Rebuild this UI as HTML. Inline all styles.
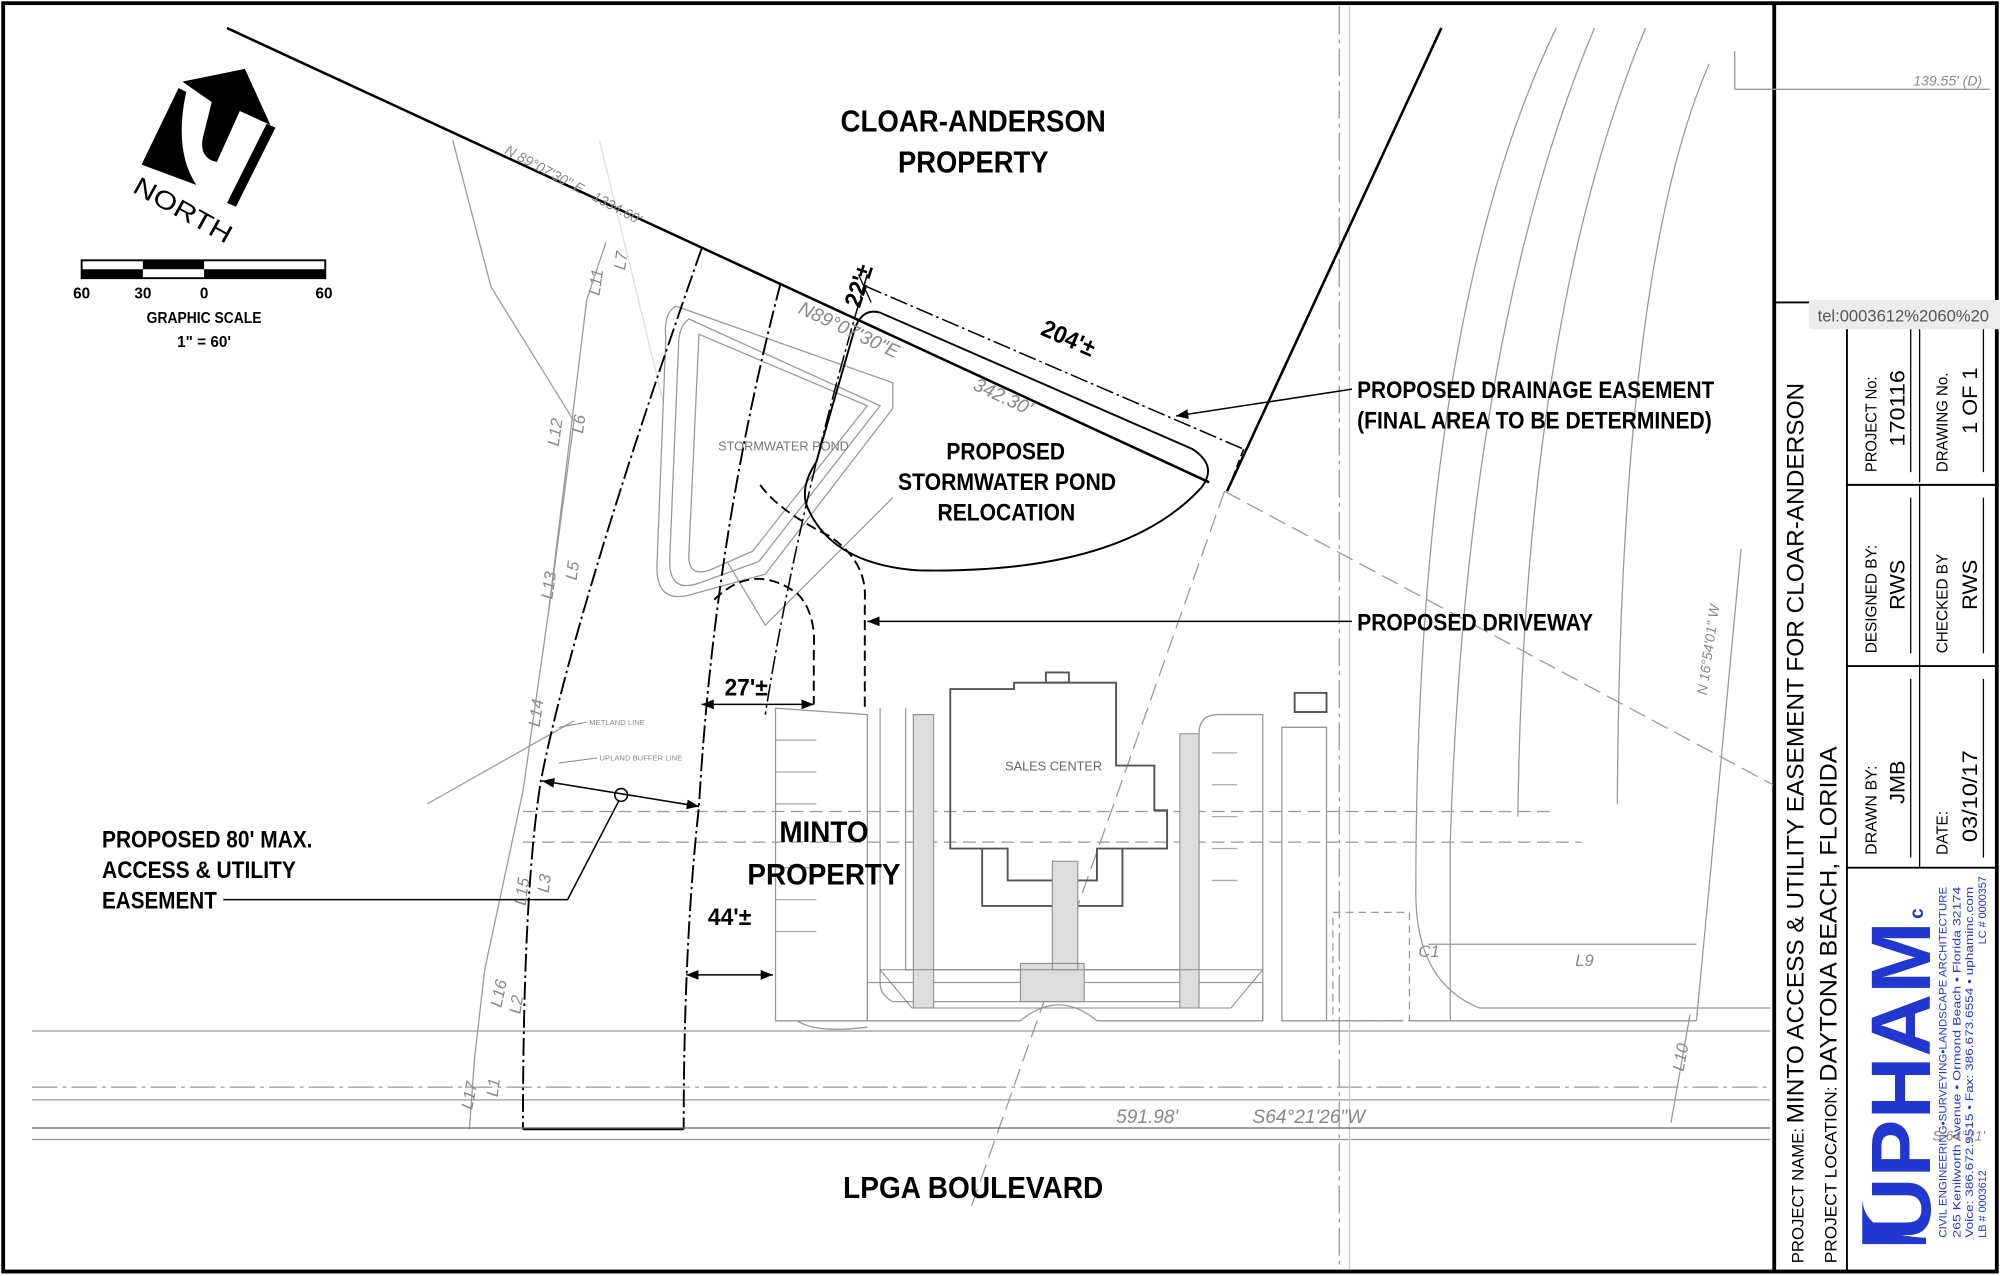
<!DOCTYPE html>
<html><head><meta charset="utf-8"><style>
html,body{margin:0;padding:0;background:#fff;}
svg{display:block;}
text{font-family:"Liberation Sans Narrow","Liberation Sans",sans-serif;}
.b{font-weight:bold;fill:#000;}
.g{fill:#888;font-style:italic;font-size:11px;}
</style></head><body>
<svg width="2000" height="1276" viewBox="0 0 1568 1000" preserveAspectRatio="none" xmlns="http://www.w3.org/2000/svg">
<defs><marker id="ar" viewBox="0 0 10 10" refX="10" refY="5" markerWidth="8" markerHeight="8" orient="auto-start-reverse"><path d="M0,1 L10,5 L0,9 Z" fill="#000"/></marker></defs>
<rect x="0" y="0" width="1568" height="1000" fill="#fff"/>
<!-- frame -->
<rect x="2.5" y="2.5" width="1563" height="994" fill="none" stroke="#000" stroke-width="3"/>
<line x1="1391" y1="2" x2="1391" y2="997" stroke="#000" stroke-width="3"/>
<line x1="1392" y1="237" x2="1566" y2="237" stroke="#000" stroke-width="1.5"/>
<line x1="1448" y1="237" x2="1448" y2="997" stroke="#000" stroke-width="1.5"/>
<line x1="1505" y1="380" x2="1505" y2="680" stroke="#000" stroke-width="1"/>
<line x1="1448" y1="380" x2="1566" y2="380" stroke="#000" stroke-width="1.5"/>
<line x1="1448" y1="522" x2="1566" y2="522" stroke="#000" stroke-width="1.5"/>
<line x1="1448" y1="680" x2="1566" y2="680" stroke="#000" stroke-width="1.5"/>
<line x1="1505" y1="250" x2="1505" y2="378" stroke="#000" stroke-width="1"/>
<g stroke="#000" stroke-width="1">
<line x1="1498" y1="255" x2="1498" y2="370"/><line x1="1555" y1="255" x2="1555" y2="370"/>
<line x1="1498" y1="390" x2="1498" y2="512"/><line x1="1555" y1="390" x2="1555" y2="512"/>
<line x1="1498" y1="532" x2="1498" y2="672"/><line x1="1555" y1="532" x2="1555" y2="672"/>
</g>
<!-- title block text -->
<g font-size="14" fill="#000">
<text transform="translate(1414,990) rotate(-90)" font-size="13" textLength="690" lengthAdjust="spacingAndGlyphs">PROJECT NAME: <tspan font-size="19">MINTO ACCESS &amp; UTILITY EASEMENT FOR CLOAR-ANDERSON</tspan></text>
<text transform="translate(1440,990) rotate(-90)" font-size="13" textLength="405" lengthAdjust="spacingAndGlyphs">PROJECT LOCATION: <tspan font-size="19">DAYTONA BEACH, FLORIDA</tspan></text>
<text transform="translate(1471,370) rotate(-90)" font-size="12" textLength="75" lengthAdjust="spacingAndGlyphs">PROJECT No:</text>
<text transform="translate(1493,350) rotate(-90)" font-size="17" textLength="60" lengthAdjust="spacingAndGlyphs">170116</text>
<text transform="translate(1527,370) rotate(-90)" font-size="12" textLength="78" lengthAdjust="spacingAndGlyphs">DRAWING No.</text>
<text transform="translate(1550,340) rotate(-90)" font-size="17" textLength="52" lengthAdjust="spacingAndGlyphs">1 OF 1</text>
<text transform="translate(1471,512) rotate(-90)" font-size="12" textLength="85" lengthAdjust="spacingAndGlyphs">DESIGNED BY:</text>
<text transform="translate(1493,478) rotate(-90)" font-size="17">RWS</text>
<text transform="translate(1527,512) rotate(-90)" font-size="12" textLength="78" lengthAdjust="spacingAndGlyphs">CHECKED BY</text>
<text transform="translate(1550,478) rotate(-90)" font-size="17">RWS</text>
<text transform="translate(1471,670) rotate(-90)" font-size="12" textLength="70" lengthAdjust="spacingAndGlyphs">DRAWN BY:</text>
<text transform="translate(1493,630) rotate(-90)" font-size="17">JMB</text>
<text transform="translate(1527,670) rotate(-90)" font-size="12">DATE:</text>
<text transform="translate(1550,660) rotate(-90)" font-size="17" textLength="72" lengthAdjust="spacingAndGlyphs">03/10/17</text>
</g>
<text transform="translate(1513,972) rotate(-90)" font-size="66" font-weight="bold" fill="#2236d0" textLength="250" lengthAdjust="spacingAndGlyphs" font-family="Liberation Sans,sans-serif">UPHAM</text>
<text transform="translate(1513,720) rotate(-90)" font-size="22" font-weight="bold" fill="#2236d0" font-family="Liberation Sans,sans-serif">ᶜ</text>
<path d="M1460,975 L1460,940 Q1462,968 1510,970 L1510,975 Z" fill="#2236d0"/>
<g fill="#2236d0" font-size="8.5">
<text transform="translate(1526,970) rotate(-90)" textLength="275" lengthAdjust="spacingAndGlyphs">CIVIL ENGINEERING•SURVEYING•LANDSCAPE ARCHITECTURE</text>
<text transform="translate(1537,970) rotate(-90)" textLength="275" lengthAdjust="spacingAndGlyphs">265 Kenilworth Avenue • Ormond Beach • Florida 32174</text>
<text transform="translate(1547,970) rotate(-90)" textLength="275" lengthAdjust="spacingAndGlyphs">Voice: 386.672.9515 • Fax: 386.673.6554 • uphaminc.com</text>
<text transform="translate(1557,970) rotate(-90)">LB # 0003612</text>
<text transform="translate(1557,740) rotate(-90)">LC # 0000357</text>
</g>
<rect x="1418" y="235" width="152" height="23" fill="#ececec" rx="3"/>
<text x="1425" y="252" font-size="13" fill="#555" font-family="Liberation Sans,sans-serif">tel:0003612%2060%20</text>

<!-- grey background linework -->
<g fill="none" stroke="#999" stroke-width="1">
<line x1="25" y1="808" x2="1388" y2="808"/>
<line x1="25" y1="862" x2="1388" y2="862"/>
<line x1="25" y1="893" x2="1388" y2="893"/>
<line x1="25" y1="852" x2="1388" y2="852" stroke-dasharray="20 4 3 4"/>
<line x1="1050" y1="5" x2="1050" y2="995" stroke-dasharray="22 4 3 4"/>
<line x1="1058" y1="5" x2="1058" y2="995" stroke="#ccc"/>
<path d="M1220,22 Q1110,250 1110,700 Q1110,770 1160,790 L1388,790"/>
<path d="M1250,22 Q1150,260 1137,660 L1137,800"/>
<path d="M1290,22 Q1195,250 1190,640"/>
<path d="M1340,50 Q1270,210 1268,630"/>
<path d="M1105,800 L1330,800"/>
<line x1="1120" y1="740" x2="1330" y2="740"/>
<line x1="1365" y1="430" x2="1330" y2="800"/>
<line x1="1325" y1="795" x2="1310" y2="880"/>
<line x1="1360" y1="70" x2="1360" y2="40"/><line x1="1360" y1="70" x2="1560" y2="70"/>
<line x1="410" y1="636" x2="1215" y2="636" stroke-dasharray="10 5"/>
<line x1="410" y1="660" x2="1240" y2="660" stroke-dasharray="10 5"/>
<line x1="960" y1="385" x2="1390" y2="615" stroke-dasharray="14 6"/>
<line x1="960" y1="385" x2="760" y2="950" stroke-dasharray="14 6"/>
<path d="M470,110 L520,315" stroke="#ddd"/>
<path d="M355,110 L385,225 L450,330 L430,480 L410,620 L380,760 L372,830 L368,885"/>
<path d="M475,190 L460,235 L430,480"/>
<path d="M335,630 L450,565"/>
<path d="M530,240 Q520,245 522,265 L515,445 Q515,475 545,465 L600,450 L700,320 L700,300 Z"/>
<path d="M540,250 Q532,256 532,270 L525,440 Q525,465 548,457 L595,440 L690,318 Z"/>
<path d="M548,262 L540,436 Q540,452 556,447 L590,432 L680,318 Z"/>
<path d="M570,440 L600,490 L700,390"/>
<path d="M608,555 L608,800 L680,800 L680,560 Z"/>
<g stroke="#aaa">
<line x1="608" y1="580" x2="640" y2="580"/><line x1="608" y1="605" x2="640" y2="605"/><line x1="608" y1="630" x2="640" y2="630"/>
<line x1="608" y1="680" x2="640" y2="680"/><line x1="608" y1="705" x2="640" y2="705"/><line x1="608" y1="730" x2="640" y2="730"/>
<line x1="950" y1="590" x2="970" y2="590"/><line x1="950" y1="615" x2="970" y2="615"/><line x1="950" y1="640" x2="970" y2="640"/>
<line x1="950" y1="665" x2="970" y2="665"/><line x1="950" y1="690" x2="970" y2="690"/>
</g>
<path d="M710,555 L710,760 L930,760 L930,575"/>
<path d="M690,555 L690,770 Q690,780 700,785 L940,785 L940,575 Q940,560 955,560 L990,560 L990,800"/>
<path d="M1005,570 L1040,570 L1040,800 L1005,800 Z"/>
<path d="M680,770 L680,800 Q700,800 800,800 Q830,775 860,800 L990,800 L990,770 Z"/>
<path d="M625,800 Q640,810 680,805"/>
<path d="M1040,800 L1100,800"/>
<rect x="1045" y="715" width="60" height="85" stroke-dasharray="6 4"/>
</g>
<g fill="none" stroke="#555" stroke-width="1.5">
<path d="M745,540 L795,540 L795,535 L875,535 L875,600 L905,600 L905,635 L915,635 L915,665 L860,665 L860,690 L790,690 L790,665 L745,665 Z"/>
<path d="M770,665 L770,710 L880,710 L880,665"/>
<rect x="820" y="527" width="18" height="8"/>
<rect x="1015" y="543" width="25" height="15"/>
</g>
<path d="M716,560 L732,560 L732,790 L716,790 Z M925,575 L940,575 L940,790 L925,790 Z M800,755 L850,755 L850,785 L800,785 Z M825,675 L845,675 L845,760 L825,760 Z" fill="#ddd" stroke="#888" stroke-width="0.8"/>
<path d="M690,760 L990,760 L965,790 L715,790 Z" fill="none" stroke="#888" stroke-width="0.8"/>

<!-- main black linework -->
<g stroke="#000" fill="none">
<line x1="178" y1="22" x2="948" y2="378" stroke-width="2"/>
<line x1="962" y1="385" x2="1130" y2="22" stroke-width="2"/>
<line x1="678" y1="224" x2="975" y2="352" stroke-width="1.2" stroke-dasharray="14 3 2 3"/>
<line x1="975" y1="352" x2="965" y2="378" stroke-width="1.2" stroke-dasharray="6 3"/>
<path d="M690,245 L935,352 Q955,365 942,382 Q880,450 720,447 Q650,442 632,395 Q628,380 640,362 L670,258 Q676,241 690,245 Z" stroke-width="1.5"/>
<path d="M550,195 Q450,480 424,612 Q410,700 410,885" stroke-width="1.5" stroke-dasharray="14 3 2 3"/>
<path d="M612,222 Q560,420 548,632 Q536,740 536,885" stroke-width="1.5" stroke-dasharray="14 3 2 3"/>
<path d="M680,215 Q625,400 600,560" stroke-width="1.2" stroke-dasharray="14 3 2 3"/>
<path d="M596,380 Q610,400 650,420 Q680,440 678,470 L678,555" stroke-width="1.5" stroke-dasharray="8 4"/>
<path d="M560,470 Q590,440 625,465 Q640,480 638,510 L638,552" stroke-width="1.5" stroke-dasharray="8 4"/>
<line x1="410" y1="885" x2="536" y2="885" stroke-width="1.5"/>
<line x1="25" y1="884" x2="1388" y2="884" stroke-width="1" stroke="#666"/>
<line x1="550" y1="552" x2="638" y2="552" stroke-width="1.2" marker-start="url(#ar)" marker-end="url(#ar)"/>
<line x1="538" y1="764" x2="606" y2="764" stroke-width="1.2" marker-start="url(#ar)" marker-end="url(#ar)"/>
<line x1="425" y1="612" x2="548" y2="632" stroke-width="1.2" marker-start="url(#ar)" marker-end="url(#ar)"/>
<circle cx="487" cy="623" r="5" stroke-width="1.2"/>
<polyline points="175,705 445,705 485,628" stroke-width="1.2"/>
<line x1="1060" y1="305" x2="922" y2="326" stroke-width="1.2" marker-end="url(#ar)"/>
<line x1="1060" y1="487" x2="680" y2="487" stroke-width="1.2" marker-end="url(#ar)"/>
<line x1="673" y1="215" x2="683" y2="237" stroke-width="1"/>
</g>

<!-- north arrow -->
<path d="M140,69 L111,129 L154,145 Q136,118 146,72 Z" fill="#000"/>
<path d="M143,64 L192,54 L212,98 L188,87 L170,127 Q156,124 159,108 L166,80 Z" fill="#000"/>
<polygon points="209,97 216,100 185,162 178,159" fill="#000"/>
<text transform="translate(103,150) rotate(29)" font-size="20" font-family="Liberation Sans,sans-serif" textLength="85" lengthAdjust="spacingAndGlyphs">NORTH</text>
<!-- scale -->
<rect x="64" y="204" width="191" height="14" fill="#fff" stroke="#000" stroke-width="1.5"/>
<rect x="64" y="211" width="48" height="7" fill="#000"/>
<rect x="112" y="204" width="48" height="7" fill="#000"/>
<rect x="160" y="211" width="95" height="7" fill="#000"/>
<g class="b" font-size="12" text-anchor="middle">
<text x="64" y="234">60</text><text x="112" y="234">30</text><text x="160" y="234">0</text><text x="254" y="234">60</text>
<text x="160" y="253" textLength="90" lengthAdjust="spacingAndGlyphs">GRAPHIC SCALE</text><text x="160" y="272">1" = 60'</text>
</g>

<!-- labels -->
<g class="b" font-size="24">
<text x="659" y="103" textLength="208" lengthAdjust="spacingAndGlyphs">CLOAR-ANDERSON</text>
<text x="704" y="135" textLength="118" lengthAdjust="spacingAndGlyphs">PROPERTY</text>
<text x="611" y="660" font-size="23" textLength="70" lengthAdjust="spacingAndGlyphs">MINTO</text>
<text x="586" y="693" font-size="23" textLength="120" lengthAdjust="spacingAndGlyphs">PROPERTY</text>
<text x="661" y="939" textLength="204" lengthAdjust="spacingAndGlyphs">LPGA BOULEVARD</text>
<text x="742" y="360" font-size="19" textLength="93" lengthAdjust="spacingAndGlyphs">PROPOSED</text>
<text x="704" y="384" font-size="19" textLength="171" lengthAdjust="spacingAndGlyphs">STORMWATER POND</text>
<text x="735" y="408" font-size="19" textLength="108" lengthAdjust="spacingAndGlyphs">RELOCATION</text>
</g>
<g class="b" font-size="19">
<text x="1064" y="312" textLength="280" lengthAdjust="spacingAndGlyphs">PROPOSED DRAINAGE EASEMENT</text>
<text x="1064" y="336" textLength="278" lengthAdjust="spacingAndGlyphs">(FINAL AREA TO BE DETERMINED)</text>
<text x="1064" y="494" textLength="185" lengthAdjust="spacingAndGlyphs">PROPOSED DRIVEWAY</text>
<text x="80" y="664" textLength="165" lengthAdjust="spacingAndGlyphs">PROPOSED 80' MAX.</text>
<text x="80" y="688" textLength="152" lengthAdjust="spacingAndGlyphs">ACCESS &amp; UTILITY</text>
<text x="80" y="712" textLength="90" lengthAdjust="spacingAndGlyphs">EASEMENT</text>
<text x="568" y="545" textLength="34" lengthAdjust="spacingAndGlyphs">27'±</text>
<text x="555" y="725" textLength="34" lengthAdjust="spacingAndGlyphs">44'±</text>
<text transform="translate(815,262) rotate(24)" textLength="44" lengthAdjust="spacingAndGlyphs">204'±</text>
<text transform="translate(674,242) rotate(-72)" textLength="34" lengthAdjust="spacingAndGlyphs">22'±</text>
</g>
<g class="g" font-family="Liberation Sans,sans-serif">
<text transform="translate(395,120) rotate(28)">N 89°07'30" E &#160;&#160;1334.60'</text>
<text transform="translate(625,245) rotate(25)" font-size="15">N89°07'30"E</text>
<text transform="translate(762,305) rotate(25)" font-size="15">342.30'</text>
<text x="875" y="880" font-size="15">591.98'</text>
<text x="982" y="880" font-size="15">S64°21'26"W</text>
<text x="1500" y="67">139.55' (D)</text>
<text x="1515" y="894">S 64°21'</text>
<text transform="translate(1338,545) rotate(-82)">N 16°54'01" W</text>
<text x="1112" y="750" font-size="13">C1</text>
<text x="1235" y="757" font-size="13">L9</text>
<text transform="translate(470,232) rotate(-82)" font-size="13">L11</text>
<text transform="translate(490,212) rotate(-82)" font-size="13">L7</text>
<text transform="translate(438,350) rotate(-82)" font-size="13">L12</text>
<text transform="translate(457,340) rotate(-82)" font-size="13">L6</text>
<text transform="translate(433,470) rotate(-82)" font-size="13">L13</text>
<text transform="translate(452,455) rotate(-82)" font-size="13">L5</text>
<text transform="translate(423,570) rotate(-82)" font-size="13">L14</text>
<text transform="translate(412,710) rotate(-82)" font-size="13">L15</text>
<text transform="translate(430,700) rotate(-82)" font-size="13">L3</text>
<text transform="translate(393,790) rotate(-78)" font-size="13">L16</text>
<text transform="translate(408,795) rotate(-82)" font-size="13">L2</text>
<text transform="translate(370,870) rotate(-78)" font-size="13">L17</text>
<text transform="translate(390,860) rotate(-82)" font-size="13">L1</text>
<text transform="translate(1320,840) rotate(-80)" font-size="13">L10</text>
</g>
<g fill="#888" font-size="6" font-family="Liberation Sans,sans-serif">
<text x="462" y="568">METLAND LINE</text><text x="470" y="596">UPLAND BUFFER LINE</text>
</g>
<line x1="438" y1="570" x2="460" y2="566" stroke="#888" stroke-width="0.8"/>
<line x1="438" y1="598" x2="468" y2="594" stroke="#888" stroke-width="0.8"/>
<text x="563" y="353" font-size="10" fill="#777" font-family="Liberation Serif,serif">STORMWATER POND</text>
<text x="788" y="604" font-size="10" fill="#666" font-family="Liberation Serif,serif">SALES CENTER</text>
</svg>
</body></html>
